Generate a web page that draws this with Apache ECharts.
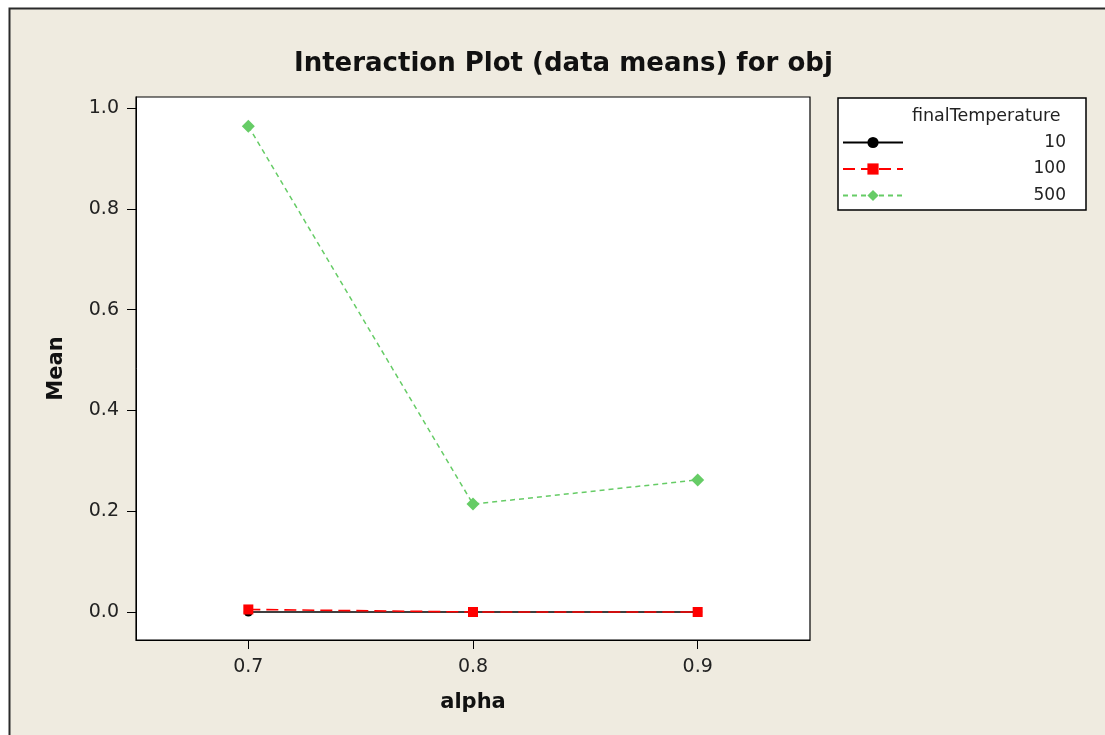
<!DOCTYPE html>
<html><head><meta charset="utf-8">
<script src="https://cdn.jsdelivr.net/npm/echarts@6/dist/echarts.min.js"></script>
<style>html,body{margin:0;padding:0;background:#fff}#c{width:1105px;height:735px}</style>
</head><body><div id="c"></div>
<script>
const alphaValues = [0.7, 0.8, 0.9];
const seriesNames = ['10', '100', '500'];
const mean10 = [0.0, 0.0, 0.0];
const mean100 = [0.005, 0.0, 0.0];
const mean500 = [0.964, 0.214, 0.262];
const yTicks = [0.0, 0.2, 0.4, 0.6, 0.8, 1.0];
const xTicks = [0.7, 0.8, 0.9];

const pairs = v => alphaValues.map((a, i) => [a, v[i]]);
const font = 'DejaVu Sans';
const chart = echarts.init(document.getElementById('c'));
chart.setOption({
  backgroundColor: '#ffffff',
  animation: false,
  graphic: [
    {type: 'rect', z: -10, shape: {x: 9.5, y: 8.5, width: 1200, height: 800},
     style: {fill: '#EFEBE0', stroke: '#2a2a2a', lineWidth: 2}},
    {type: 'text', left: 912, top: 107, z: 10,
     style: {text: 'finalTemperature', font: '17.5px "' + font + '"', fill: '#222'}}
  ],
  title: {
    text: 'Interaction Plot (data means) for obj',
    left: 289, top: 46,
    textStyle: {fontFamily: font, fontWeight: 'bold', fontSize: 26, color: '#111'}
  },
  grid: {left: 136, top: 97, width: 674, height: 543, show: true,
    backgroundColor: '#ffffff', borderColor: '#000', borderWidth: 1.2},
  legend: {
    orient: 'vertical', left: 838, top: 98,
    padding: [36, 20, 6, 4],
    itemWidth: 60, itemHeight: 14, itemGap: 9.5,
    borderColor: '#000', borderWidth: 1.5,
    backgroundColor: '#fff',
    data: seriesNames,
    formatter: n => '{a|' + n + '}',
    textStyle: {rich: {a: {width: 158, height: 14, lineHeight: 14, align: 'right', fontFamily: font, fontSize: 17, color: '#222'}}}
  },
  xAxis: {
    type: 'value', min: 0.65, max: 0.95,
    name: 'alpha', nameLocation: 'middle', nameGap: 52,
    nameTextStyle: {fontFamily: font, fontWeight: 'bold', fontSize: 21, color: '#111'},
    axisLine: {show: true, onZero: false, lineStyle: {color: '#000'}},
    axisTick: {show: true, length: 9, customValues: xTicks, lineStyle: {color: '#000'}},
    axisLabel: {customValues: xTicks, formatter: v => v.toFixed(1), margin: 18,
      fontFamily: font, fontSize: 19, color: '#222'},
    splitLine: {show: false}
  },
  yAxis: {
    type: 'value', min: -0.0556, max: 1.0218,
    name: 'Mean', nameLocation: 'middle', nameGap: 69, nameRotate: 90,
    nameTextStyle: {fontFamily: font, fontWeight: 'bold', fontSize: 21, color: '#111'},
    axisLine: {show: true, onZero: false, lineStyle: {color: '#000'}},
    axisTick: {show: true, length: 9, customValues: yTicks, lineStyle: {color: '#000'}},
    axisLabel: {customValues: yTicks, formatter: v => v.toFixed(1), margin: 17,
      fontFamily: font, fontSize: 19, color: '#222'},
    splitLine: {show: false}
  },
  series: [
    {name: '10', type: 'line', data: pairs(mean10), symbol: 'circle', symbolSize: 9,
     itemStyle: {color: '#000'}, lineStyle: {color: '#000', width: 1.5, type: 'solid'}, z: 3},
    {name: '100', type: 'line', data: pairs(mean100), symbol: 'rect', symbolSize: 10,
     itemStyle: {color: '#ff0000'}, lineStyle: {color: '#ff0000', width: 1.6, type: [12, 6]}, z: 4},
    {name: '500', type: 'line', data: pairs(mean500), symbol: 'diamond', symbolSize: 13,
     itemStyle: {color: '#66CC66'}, lineStyle: {color: '#66CC66', width: 1.5, type: [5, 4]}, z: 5}
  ]
});
</script></body></html>
